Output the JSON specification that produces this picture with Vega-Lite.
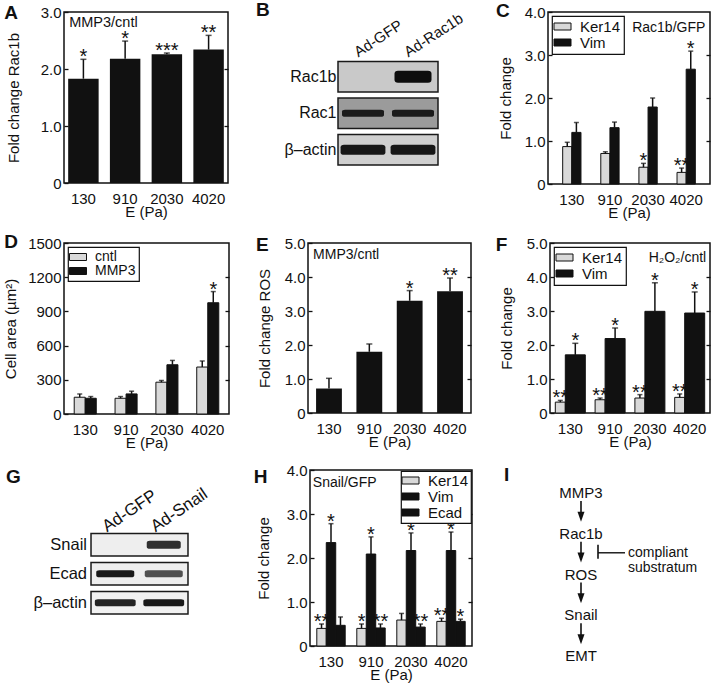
{
 "$schema": "https://vega.github.io/schema/vega-lite/v6.json",
 "background": "white",
 "padding": {"left": 2, "top": 1, "right": 2, "bottom": 2},
 "spacing": 11,
 "resolve": {"scale": {"color": "independent", "xOffset": "independent", "shape": "independent", "fill": "independent", "opacity": "independent"}, "legend": {"color": "independent", "shape": "independent", "fill": "independent", "opacity": "independent"}},
 "vconcat": [
  {"hconcat": [
   {
    "width": 164, "height": 171,
    "data": {"values": [
     {"E": "130", "v": 1.83, "e": 2.17, "sig": "*"},
     {"E": "910", "v": 2.18, "e": 2.49, "sig": "*"},
     {"E": "2030", "v": 2.26, "e": 2.28, "sig": "***"},
     {"E": "4020", "v": 2.34, "e": 2.59, "sig": "**"}
    ]},
    "encoding": {"x": {"field": "E", "type": "nominal", "sort": null, "scale": {"paddingInner": 0.27, "paddingOuter": 0.1}, "axis": {"title": "E (Pa)"}}},
    "layer": [
     {"mark": {"type": "bar", "fill": "#111111"},
      "encoding": {"y": {"field": "v", "type": "quantitative", "scale": {"domain": [0, 3], "nice": false}, "axis": {"title": "Fold change Rac1b", "titlePadding": 19, "values": [0, 1, 2, 3], "labelExpr": "datum.value==0?'0':format(datum.value,'.1f')"}}}},
     {"mark": {"type": "rule", "strokeWidth": 1.5, "color": "#111111"},
      "encoding": {"y": {"field": "v", "type": "quantitative", "axis": {"orient": "right", "labels": false, "title": null, "values": [1, 2]}}, "y2": {"field": "e"}}},
     {"mark": {"type": "tick", "thickness": 1.5, "size": 6, "color": "#111111"},
      "encoding": {"y": {"field": "e", "type": "quantitative", "axis": null}}},
     {"mark": {"type": "text", "fontSize": 20, "baseline": "alphabetic", "dy": 4, "color": "#111111"},
      "encoding": {"y": {"field": "e", "type": "quantitative", "axis": null}, "text": {"field": "sig"}}},
     {"data": {"values": [{"t": "MMP3/cntl"}]},
      "mark": {"type": "text", "fontSize": 14.5, "align": "left", "baseline": "top", "dx": 1, "dy": 4, "color": "#111111"},
      "encoding": {"x": {"datum": "130", "bandPosition": 0}, "y": {"datum": 3, "type": "quantitative", "axis": null}, "text": {"field": "t"}}},
     {"data": {"values": [{}]},
      "mark": {"type": "text", "text": "A", "fontSize": 19, "fontWeight": "bold", "align": "left", "baseline": "alphabetic", "dx": -64, "dy": 7, "color": "#111111"},
      "encoding": {"x": {"datum": "130", "bandPosition": 0}, "y": {"datum": 3, "type": "quantitative", "axis": null}}}
    ],
    "resolve": {"axis": {"y": "independent"}}
   },
   {
    "width": 100, "height": 153, "view": {"stroke": null},
    "encoding": {"y": {"field": "row", "type": "nominal", "scale": {"domain": ["lanes", "Rac1b", "Rac1", "β–actin"], "paddingInner": 0.164, "paddingOuter": 0.178, "align": 1}, "axis": {"title": null, "ticks": false, "labelPadding": 2, "labelFontSize": 16, "labelExpr": "datum.label=='lanes'?'':datum.label"}}},
    "layer": [
     {"data": {"values": [{"row": "Rac1b", "bg": 0.19}, {"row": "Rac1", "bg": 0.36}, {"row": "β–actin", "bg": 0.17}]},
      "mark": {"type": "rect", "stroke": "#1a1a1a", "strokeWidth": 1.5},
      "encoding": {"x": {"datum": -0.5, "type": "quantitative", "scale": {"domain": [-0.5, 1.5], "nice": false, "zero": false}, "axis": null}, "x2": {"datum": 1.5}, "fill": {"field": "bg", "type": "quantitative", "scale": {"domain": [0, 1], "range": ["#ffffff", "#000000"]}, "legend": null}}},
     {"data": {"values": [{"lane": 1, "row": "Rac1b", "i": 1}, {"lane": 0, "row": "Rac1", "i": 0.9}, {"lane": 1, "row": "Rac1", "i": 0.9}, {"lane": 0, "row": "β–actin", "i": 0.95}, {"lane": 1, "row": "β–actin", "i": 0.95}]},
      "mark": {"type": "point", "filled": true, "size": 1600, "color": "#0d0d0d", "strokeWidth": 0},
      "encoding": {"x": {"field": "lane", "type": "quantitative"},
       "shape": {"field": "row", "type": "nominal", "scale": {"domain": ["Rac1b", "Rac1", "β–actin"], "range": [
        "M-0.925,-0.15Q-0.925,-0.3 -0.75,-0.3H0.75Q0.925,-0.3 0.925,-0.15V0.15Q0.925,0.3 0.75,0.3H-0.75Q-0.925,0.3 -0.925,0.15Z",
        "M-1.05,-0.09Q-1.05,-0.18 -0.9,-0.18H0.9Q1.05,-0.18 1.05,-0.09V0.09Q1.05,0.18 0.9,0.18H-0.9Q-1.05,0.18 -1.05,0.09Z",
        "M-1.12,-0.12Q-1.12,-0.25 -0.95,-0.25H0.95Q1.12,-0.25 1.12,-0.12V0.12Q1.12,0.25 0.95,0.25H-0.95Q-1.12,0.25 -1.12,0.12Z"]}, "legend": null},
       "opacity": {"field": "i", "type": "quantitative", "scale": {"domain": [0, 1], "range": [0, 1]}, "legend": null}}},
     {"data": {"values": [{"lane": 0, "name": "Ad-GFP"}, {"lane": 1, "name": "Ad-Rac1b"}]},
      "mark": {"type": "text", "angle": -33, "align": "left", "baseline": "alphabetic", "fontSize": 15, "dx": -5, "dy": -1, "color": "#111111"},
      "encoding": {"x": {"field": "lane", "type": "quantitative"}, "y": {"datum": "lanes", "bandPosition": 1}, "text": {"field": "name"}}},
     {"data": {"values": [{}]},
      "mark": {"type": "text", "text": "B", "fontSize": 19, "fontWeight": "bold", "align": "left", "baseline": "alphabetic", "dx": -82, "dy": -8.8, "color": "#111111"},
      "encoding": {"x": {"datum": -0.5, "type": "quantitative"}, "y": {"datum": "lanes", "bandPosition": 0}}}
    ]
   },
   {
    "width": 162, "height": 172,
    "data": {"values": [
     {"E": "130", "g": "Ker14", "v": 0.87, "e": 0.97, "sig": ""},
     {"E": "130", "g": "Vim", "v": 1.2, "e": 1.43, "sig": ""},
     {"E": "910", "g": "Ker14", "v": 0.71, "e": 0.75, "sig": ""},
     {"E": "910", "g": "Vim", "v": 1.31, "e": 1.44, "sig": ""},
     {"E": "2030", "g": "Ker14", "v": 0.39, "e": 0.48, "sig": "*"},
     {"E": "2030", "g": "Vim", "v": 1.79, "e": 2.0, "sig": ""},
     {"E": "4020", "g": "Ker14", "v": 0.27, "e": 0.37, "sig": "**"},
     {"E": "4020", "g": "Vim", "v": 2.67, "e": 3.09, "sig": "*"}
    ]},
    "encoding": {"x": {"field": "E", "type": "nominal", "sort": null, "scale": {"paddingInner": 0.52, "paddingOuter": 0.385}, "axis": {"title": "E (Pa)"}}},
    "layer": [
     {"mark": {"type": "bar", "stroke": "#111111", "strokeWidth": 1},
      "encoding": {"xOffset": {"field": "g", "type": "nominal", "sort": null},
       "y": {"field": "v", "type": "quantitative", "scale": {"domain": [0, 4], "nice": false}, "axis": {"title": "Fold change", "titlePadding": 11, "values": [0, 1, 2, 3, 4], "labelExpr": "datum.value==0?'0':format(datum.value,'.1f')"}},
       "color": {"field": "g", "type": "nominal", "sort": null, "scale": {"domain": ["Ker14", "Vim"], "range": ["#d9d9d9", "#111111"]}, "legend": {"title": null, "orient": "top-left", "offset": 4, "rowPadding": -3}}}},
     {"mark": {"type": "rule", "strokeWidth": 1.5, "color": "#111111"},
      "encoding": {"xOffset": {"field": "g", "type": "nominal", "sort": null}, "y": {"field": "v", "type": "quantitative", "axis": {"orient": "right", "labels": false, "title": null, "values": [1, 2, 3]}}, "y2": {"field": "e"}}},
     {"mark": {"type": "tick", "thickness": 1.5, "size": 5, "color": "#111111"},
      "encoding": {"xOffset": {"field": "g", "type": "nominal", "sort": null}, "y": {"field": "e", "type": "quantitative", "axis": null}}},
     {"mark": {"type": "text", "fontSize": 20, "baseline": "alphabetic", "dy": 4, "color": "#111111"},
      "encoding": {"xOffset": {"field": "g", "type": "nominal", "sort": null}, "y": {"field": "e", "type": "quantitative", "axis": null}, "text": {"field": "sig"}}},
     {"data": {"values": [{"t": "Rac1b/GFP"}]},
      "mark": {"type": "text", "fontSize": 14, "align": "right", "baseline": "top", "dx": 10, "dy": 9, "color": "#111111"},
      "encoding": {"x": {"datum": "4020", "bandPosition": 1}, "y": {"datum": 4, "type": "quantitative", "axis": null}, "text": {"field": "t"}}},
     {"data": {"values": [{}]},
      "mark": {"type": "text", "text": "C", "fontSize": 19, "fontWeight": "bold", "align": "left", "baseline": "alphabetic", "dx": -66.6, "dy": 5.3, "color": "#111111"},
      "encoding": {"x": {"datum": "130", "bandPosition": 0}, "y": {"datum": 4, "type": "quantitative", "axis": null}}}
    ],
    "resolve": {"axis": {"y": "independent"}}
   }
  ], "spacing": 110, "bounds": "flush",
  "resolve": {"scale": {"color": "independent", "xOffset": "independent", "shape": "independent", "fill": "independent", "opacity": "independent"}, "legend": {"color": "independent", "shape": "independent", "fill": "independent", "opacity": "independent"}}},
  {"hconcat": [
   {
    "width": 165, "height": 171,
    "data": {"values": [
     {"E": "130", "g": "cntl", "v": 147, "e": 176, "sig": ""},
     {"E": "130", "g": "MMP3", "v": 138, "e": 153, "sig": ""},
     {"E": "910", "g": "cntl", "v": 138, "e": 153, "sig": ""},
     {"E": "910", "g": "MMP3", "v": 176, "e": 200, "sig": ""},
     {"E": "2030", "g": "cntl", "v": 279, "e": 294, "sig": ""},
     {"E": "2030", "g": "MMP3", "v": 432, "e": 470, "sig": ""},
     {"E": "4020", "g": "cntl", "v": 412, "e": 465, "sig": ""},
     {"E": "4020", "g": "MMP3", "v": 976, "e": 1074, "sig": "*"}
    ]},
    "encoding": {"x": {"field": "E", "type": "nominal", "sort": null, "scale": {"paddingInner": 0.46, "paddingOuter": 0.25}, "axis": {"title": "E (Pa)"}}},
    "layer": [
     {"mark": {"type": "bar", "stroke": "#111111", "strokeWidth": 1},
      "encoding": {"xOffset": {"field": "g", "type": "nominal", "sort": null},
       "y": {"field": "v", "type": "quantitative", "scale": {"domain": [0, 1500], "nice": false}, "axis": {"title": "Cell area (µm²)", "titlePadding": 9, "values": [0, 300, 600, 900, 1200, 1500], "format": "d"}},
       "color": {"field": "g", "type": "nominal", "sort": null, "scale": {"domain": ["cntl", "MMP3"], "range": ["#d9d9d9", "#111111"]}, "legend": {"title": null, "orient": "top-left", "offset": 4, "rowPadding": -5, "labelFontSize": 14}}}},
     {"mark": {"type": "rule", "strokeWidth": 1.5, "color": "#111111"},
      "encoding": {"xOffset": {"field": "g", "type": "nominal", "sort": null}, "y": {"field": "v", "type": "quantitative", "axis": {"orient": "right", "labels": false, "title": null, "values": [300, 600, 900, 1200]}}, "y2": {"field": "e"}}},
     {"mark": {"type": "tick", "thickness": 1.5, "size": 5, "color": "#111111"},
      "encoding": {"xOffset": {"field": "g", "type": "nominal", "sort": null}, "y": {"field": "e", "type": "quantitative", "axis": null}}},
     {"mark": {"type": "text", "fontSize": 20, "baseline": "alphabetic", "dy": 4, "color": "#111111"},
      "encoding": {"xOffset": {"field": "g", "type": "nominal", "sort": null}, "y": {"field": "e", "type": "quantitative", "axis": null}, "text": {"field": "sig"}}},
     {"data": {"values": [{}]},
      "mark": {"type": "text", "text": "D", "fontSize": 19, "fontWeight": "bold", "align": "left", "baseline": "alphabetic", "dx": -70, "dy": 5, "color": "#111111"},
      "encoding": {"x": {"datum": "130", "bandPosition": 0}, "y": {"datum": 1500, "type": "quantitative", "axis": null}}}
    ],
    "resolve": {"axis": {"y": "independent"}}
   },
   {
    "width": 163, "height": 170,
    "data": {"values": [
     {"E": "130", "v": 0.72, "e": 1.02, "sig": ""},
     {"E": "910", "v": 1.8, "e": 2.03, "sig": ""},
     {"E": "2030", "v": 3.3, "e": 3.6, "sig": "*"},
     {"E": "4020", "v": 3.58, "e": 3.97, "sig": "**"}
    ]},
    "encoding": {"x": {"field": "E", "type": "nominal", "sort": null, "scale": {"paddingInner": 0.36, "paddingOuter": 0.2}, "axis": {"title": "E (Pa)"}}},
    "layer": [
     {"mark": {"type": "bar", "fill": "#111111"},
      "encoding": {"y": {"field": "v", "type": "quantitative", "scale": {"domain": [0, 5], "nice": false}, "axis": {"title": "Fold change ROS", "titlePadding": 12, "values": [0, 1, 2, 3, 4, 5], "labelExpr": "datum.value==0?'0':format(datum.value,'.1f')"}}}},
     {"mark": {"type": "rule", "strokeWidth": 1.5, "color": "#111111"},
      "encoding": {"y": {"field": "v", "type": "quantitative", "axis": {"orient": "right", "labels": false, "title": null, "values": [1, 2, 3, 4]}}, "y2": {"field": "e"}}},
     {"mark": {"type": "tick", "thickness": 1.5, "size": 6, "color": "#111111"},
      "encoding": {"y": {"field": "e", "type": "quantitative", "axis": null}}},
     {"mark": {"type": "text", "fontSize": 20, "baseline": "alphabetic", "dy": 4, "color": "#111111"},
      "encoding": {"y": {"field": "e", "type": "quantitative", "axis": null}, "text": {"field": "sig"}}},
     {"data": {"values": [{"t": "MMP3/cntl"}]},
      "mark": {"type": "text", "fontSize": 14, "align": "left", "baseline": "top", "dx": -3, "dy": 5, "color": "#111111"},
      "encoding": {"x": {"datum": "130", "bandPosition": 0}, "y": {"datum": 5, "type": "quantitative", "axis": null}, "text": {"field": "t"}}},
     {"data": {"values": [{}]},
      "mark": {"type": "text", "text": "E", "fontSize": 19, "fontWeight": "bold", "align": "left", "baseline": "alphabetic", "dx": -60, "dy": 7.7, "color": "#111111"},
      "encoding": {"x": {"datum": "130", "bandPosition": 0}, "y": {"datum": 5, "type": "quantitative", "axis": null}}}
    ],
    "resolve": {"axis": {"y": "independent"}}
   },
   {
    "width": 160, "height": 170,
    "data": {"values": [
     {"E": "130", "g": "Ker14", "v": 0.32, "e": 0.37, "sig": "**"},
     {"E": "130", "g": "Vim", "v": 1.71, "e": 2.05, "sig": "*"},
     {"E": "910", "g": "Ker14", "v": 0.39, "e": 0.44, "sig": "**"},
     {"E": "910", "g": "Vim", "v": 2.19, "e": 2.5, "sig": "*"},
     {"E": "2030", "g": "Ker14", "v": 0.44, "e": 0.54, "sig": "**"},
     {"E": "2030", "g": "Vim", "v": 2.99, "e": 3.83, "sig": "*"},
     {"E": "4020", "g": "Ker14", "v": 0.46, "e": 0.56, "sig": "**"},
     {"E": "4020", "g": "Vim", "v": 2.94, "e": 3.56, "sig": "*"}
    ]},
    "encoding": {"x": {"field": "E", "type": "nominal", "sort": null, "scale": {"paddingInner": 0.22, "paddingOuter": 0.12}, "axis": {"title": "E (Pa)"}}},
    "layer": [
     {"transform": [{"filter": "datum.g=='Ker14'"}],
      "mark": {"type": "bar", "width": 10, "xOffset": -10, "stroke": "#111111", "strokeWidth": 1},
      "encoding": {"y": {"field": "v", "type": "quantitative", "scale": {"domain": [0, 5], "nice": false}, "axis": {"title": "Fold change", "titlePadding": 12, "values": [0, 1, 2, 3, 4, 5], "labelExpr": "datum.value==0?'0':format(datum.value,'.1f')"}},
       "color": {"field": "g", "type": "nominal", "sort": null, "scale": {"domain": ["Ker14", "Vim"], "range": ["#d9d9d9", "#111111"]}, "legend": {"title": null, "orient": "top-left", "offset": 4, "rowPadding": -3}}}},
     {"transform": [{"filter": "datum.g=='Vim'"}],
      "mark": {"type": "bar", "width": 20, "xOffset": 5, "stroke": "#111111", "strokeWidth": 1},
      "encoding": {"y": {"field": "v", "type": "quantitative", "axis": null}, "color": {"field": "g", "type": "nominal", "sort": null}}},
     {"transform": [{"filter": "datum.g=='Ker14'"}],
      "mark": {"type": "rule", "strokeWidth": 1.5, "color": "#111111", "xOffset": -10},
      "encoding": {"y": {"field": "v", "type": "quantitative", "axis": {"orient": "right", "labels": false, "title": null, "values": [1, 2, 3, 4]}}, "y2": {"field": "e"}}},
     {"transform": [{"filter": "datum.g=='Vim'"}],
      "mark": {"type": "rule", "strokeWidth": 1.5, "color": "#111111", "xOffset": 5},
      "encoding": {"y": {"field": "v", "type": "quantitative", "axis": null}, "y2": {"field": "e"}}},
     {"transform": [{"filter": "datum.g=='Ker14'"}],
      "mark": {"type": "tick", "thickness": 1.5, "size": 5, "color": "#111111", "xOffset": -10},
      "encoding": {"y": {"field": "e", "type": "quantitative", "axis": null}}},
     {"transform": [{"filter": "datum.g=='Vim'"}],
      "mark": {"type": "tick", "thickness": 1.5, "size": 6, "color": "#111111", "xOffset": 5},
      "encoding": {"y": {"field": "e", "type": "quantitative", "axis": null}}},
     {"transform": [{"filter": "datum.g=='Ker14'"}],
      "mark": {"type": "text", "fontSize": 20, "baseline": "alphabetic", "dy": 4, "color": "#111111", "xOffset": -10},
      "encoding": {"y": {"field": "e", "type": "quantitative", "axis": null}, "text": {"field": "sig"}}},
     {"transform": [{"filter": "datum.g=='Vim'"}],
      "mark": {"type": "text", "fontSize": 20, "baseline": "alphabetic", "dy": 4, "color": "#111111", "xOffset": 5},
      "encoding": {"y": {"field": "e", "type": "quantitative", "axis": null}, "text": {"field": "sig"}}},
     {"data": {"values": [{"t": "H₂O₂/cntl"}]},
      "mark": {"type": "text", "fontSize": 14, "align": "right", "baseline": "top", "dx": 1, "dy": 8, "color": "#111111"},
      "encoding": {"x": {"datum": "4020", "bandPosition": 1}, "y": {"datum": 5, "type": "quantitative", "axis": null}, "text": {"field": "t"}}},
     {"data": {"values": [{}]},
      "mark": {"type": "text", "text": "F", "fontSize": 19, "fontWeight": "bold", "align": "left", "baseline": "alphabetic", "dx": -59, "dy": 7.7, "color": "#111111"},
      "encoding": {"x": {"datum": "130", "bandPosition": 0}, "y": {"datum": 5, "type": "quantitative", "axis": null}}}
    ],
    "resolve": {"axis": {"y": "independent"}}
   }
  ], "spacing": 79, "bounds": "flush",
  "resolve": {"scale": {"color": "independent", "xOffset": "independent", "shape": "independent", "fill": "independent", "opacity": "independent"}, "legend": {"color": "independent", "shape": "independent", "fill": "independent", "opacity": "independent"}}},
  {"hconcat": [
   {
    "width": 214, "height": 144, "view": {"stroke": null},
    "encoding": {"y": {"field": "row", "type": "nominal", "scale": {"domain": ["lanes", "Snail", "Ecad", "β–actin"], "paddingInner": 0.224, "paddingOuter": 0.595, "align": 1}, "axis": null}},
    "layer": [
     {"data": {"values": [{"row": "Snail", "bg": 0.06}, {"row": "Ecad", "bg": 0.06}, {"row": "β–actin", "bg": 0.05}]},
      "mark": {"type": "rect", "stroke": "#1a1a1a", "strokeWidth": 1.5},
      "encoding": {"x": {"datum": -0.5, "type": "quantitative", "scale": {"domain": [-1.057, 3.356], "nice": false, "zero": false}, "axis": null}, "x2": {"datum": 1.5}, "fill": {"field": "bg", "type": "quantitative", "scale": {"domain": [0, 1], "range": ["#ffffff", "#000000"]}, "legend": null}}},
     {"data": {"values": [{"row": "Snail"}, {"row": "Ecad"}, {"row": "β–actin"}]},
      "mark": {"type": "text", "align": "right", "baseline": "middle", "fontSize": 16.5, "dx": -4, "color": "#111111"},
      "encoding": {"x": {"datum": -0.5, "type": "quantitative"}, "text": {"field": "row"}}},
     {"data": {"values": [{"lane": 1, "row": "Snail", "i": 0.85}, {"lane": 0, "row": "Ecad", "i": 0.95}, {"lane": 1, "row": "Ecad", "i": 0.7}, {"lane": 0, "row": "β–actin", "i": 0.9}, {"lane": 1, "row": "β–actin", "i": 0.95}]},
      "mark": {"type": "point", "filled": true, "size": 1600, "color": "#0d0d0d", "strokeWidth": 0},
      "encoding": {"x": {"field": "lane", "type": "quantitative"},
       "shape": {"field": "row", "type": "nominal", "scale": {"domain": ["Snail", "Ecad", "β–actin"], "range": [
        "M-0.85,-0.1Q-0.85,-0.2 -0.7,-0.2H0.7Q0.85,-0.2 0.85,-0.1V0.1Q0.85,0.2 0.7,0.2H-0.7Q-0.85,0.2 -0.85,0.1Z",
        "M-0.95,-0.09Q-0.95,-0.18 -0.8,-0.18H0.8Q0.95,-0.18 0.95,-0.09V0.09Q0.95,0.18 0.8,0.18H-0.8Q-0.95,0.18 -0.95,0.09Z",
        "M-1.02,-0.09Q-1.02,-0.18 -0.87,-0.18H0.87Q1.02,-0.18 1.02,-0.09V0.09Q1.02,0.18 0.87,0.18H-0.87Q-1.02,0.18 -1.02,0.09Z"]}, "legend": null},
       "opacity": {"field": "i", "type": "quantitative", "scale": {"domain": [0, 1], "range": [0, 1]}, "legend": null}}},
     {"data": {"values": [{"lane": 0, "name": "Ad-GFP"}, {"lane": 1, "name": "Ad-Snail"}]},
      "mark": {"type": "text", "angle": -34, "align": "left", "baseline": "alphabetic", "fontSize": 17, "dx": -10, "dy": 0, "color": "#111111"},
      "encoding": {"x": {"field": "lane", "type": "quantitative"}, "y": {"datum": "lanes", "bandPosition": 1}, "text": {"field": "name"}}},
     {"data": {"values": [{}]},
      "mark": {"type": "text", "text": "G", "fontSize": 19, "fontWeight": "bold", "align": "left", "baseline": "alphabetic", "dx": -58, "dy": -21.8, "color": "#111111"},
      "encoding": {"x": {"datum": -1.057, "type": "quantitative"}, "y": {"datum": "lanes", "bandPosition": 0}}}
    ]
   },
   {
    "width": 162, "height": 176,
    "data": {"values": [
     {"E": "130", "g": "Ker14", "v": 0.40, "e": 0.50, "sig": "**"},
     {"E": "130", "g": "Vim", "v": 2.35, "e": 2.78, "sig": "*"},
     {"E": "130", "g": "Ecad", "v": 0.47, "e": 0.66, "sig": ""},
     {"E": "910", "g": "Ker14", "v": 0.40, "e": 0.50, "sig": "*"},
     {"E": "910", "g": "Vim", "v": 2.09, "e": 2.48, "sig": "*"},
     {"E": "910", "g": "Ecad", "v": 0.41, "e": 0.50, "sig": "**"},
     {"E": "2030", "g": "Ker14", "v": 0.59, "e": 0.74, "sig": ""},
     {"E": "2030", "g": "Vim", "v": 2.17, "e": 2.57, "sig": "*"},
     {"E": "2030", "g": "Ecad", "v": 0.43, "e": 0.50, "sig": "**"},
     {"E": "4020", "g": "Ker14", "v": 0.56, "e": 0.63, "sig": "**"},
     {"E": "4020", "g": "Vim", "v": 2.17, "e": 2.59, "sig": "*"},
     {"E": "4020", "g": "Ecad", "v": 0.56, "e": 0.61, "sig": "*"}
    ]},
    "encoding": {"x": {"field": "E", "type": "nominal", "sort": null, "scale": {"paddingInner": 0.29, "paddingOuter": 0.17}, "axis": {"title": "E (Pa)"}}},
    "layer": [
     {"mark": {"type": "bar", "stroke": "#111111", "strokeWidth": 1},
      "encoding": {"xOffset": {"field": "g", "type": "nominal", "sort": null},
       "y": {"field": "v", "type": "quantitative", "scale": {"domain": [0, 4], "nice": false}, "axis": {"title": "Fold change", "titlePadding": 15, "values": [0, 1, 2, 3, 4], "labelExpr": "datum.value==0?'0':format(datum.value,'.1f')"}},
       "color": {"field": "g", "type": "nominal", "sort": null, "scale": {"domain": ["Ker14", "Vim", "Ecad"], "range": ["#d9d9d9", "#111111", "#111111"]}, "legend": {"title": null, "orient": "top-right", "offset": 1, "padding": 2, "rowPadding": -3}}}},
     {"mark": {"type": "rule", "strokeWidth": 1.5, "color": "#111111"},
      "encoding": {"xOffset": {"field": "g", "type": "nominal", "sort": null}, "y": {"field": "v", "type": "quantitative", "axis": {"orient": "right", "labels": false, "title": null, "values": [1, 2, 3]}}, "y2": {"field": "e"}}},
     {"mark": {"type": "tick", "thickness": 1.5, "size": 5, "color": "#111111"},
      "encoding": {"xOffset": {"field": "g", "type": "nominal", "sort": null}, "y": {"field": "e", "type": "quantitative", "axis": null}}},
     {"mark": {"type": "text", "fontSize": 20, "baseline": "alphabetic", "dy": 4, "color": "#111111"},
      "encoding": {"xOffset": {"field": "g", "type": "nominal", "sort": null}, "y": {"field": "e", "type": "quantitative", "axis": null}, "text": {"field": "sig"}}},
     {"data": {"values": [{"t": "Snail/GFP"}]},
      "mark": {"type": "text", "fontSize": 14, "align": "left", "baseline": "top", "dx": -4, "dy": 5.5, "color": "#111111"},
      "encoding": {"x": {"datum": "130", "bandPosition": 0}, "y": {"datum": 4, "type": "quantitative", "axis": null}, "text": {"field": "t"}}},
     {"data": {"values": [{}]},
      "mark": {"type": "text", "text": "H", "fontSize": 19, "fontWeight": "bold", "align": "left", "baseline": "alphabetic", "dx": -63, "dy": 12.7, "color": "#111111"},
      "encoding": {"x": {"datum": "130", "bandPosition": 0}, "y": {"datum": 4, "type": "quantitative", "axis": null}}}
    ],
    "resolve": {"axis": {"y": "independent"}}
   },
   {
    "width": 206, "height": 200, "view": {"stroke": null},
    "layer": [
     {"data": {"values": [{"n": "MMP3", "s": 0}, {"n": "Rac1b", "s": 1}, {"n": "ROS", "s": 2}, {"n": "Snail", "s": 3}, {"n": "EMT", "s": 4}]},
      "mark": {"type": "text", "fontSize": 15, "baseline": "middle", "color": "#111111"},
      "encoding": {"x": {"datum": 0, "type": "quantitative", "scale": {"domain": [-1.925, 3.225], "nice": false, "zero": false}, "axis": null},
       "y": {"field": "s", "type": "quantitative", "scale": {"domain": [-0.564, 4.34], "reverse": true, "nice": false, "zero": false}, "axis": null},
       "text": {"field": "n"}}},
     {"data": {"values": [{"s": 0, "t": 1}, {"s": 1, "t": 2}, {"s": 2, "t": 3}, {"s": 3, "t": 4}]},
      "mark": {"type": "rule", "strokeWidth": 1.6, "color": "#111111", "yOffset": 8, "y2Offset": -19},
      "encoding": {"x": {"datum": 0, "type": "quantitative"}, "y": {"field": "s", "type": "quantitative"}, "y2": {"field": "t"}}},
     {"data": {"values": [{"s": 0, "t": 1}, {"s": 1, "t": 2}, {"s": 2, "t": 3}, {"s": 3, "t": 4}]},
      "mark": {"type": "point", "shape": "M-0.7,-1L0.7,-1L0,1Z", "size": 100, "filled": true, "color": "#111111", "strokeWidth": 0, "opacity": 1, "yOffset": -17},
      "encoding": {"x": {"datum": 0, "type": "quantitative"}, "y": {"field": "t", "type": "quantitative"}}},
     {"data": {"values": [{}]},
      "mark": {"type": "rule", "strokeWidth": 1.6, "color": "#111111"},
      "encoding": {"x": {"datum": 0.425, "type": "quantitative"}, "y": {"datum": 1.27, "type": "quantitative"}, "y2": {"datum": 1.61}}},
     {"data": {"values": [{}]},
      "mark": {"type": "rule", "strokeWidth": 1.4, "color": "#111111"},
      "encoding": {"x": {"datum": 0.425, "type": "quantitative"}, "x2": {"datum": 1.1}, "y": {"datum": 1.466, "type": "quantitative"}}},
     {"data": {"values": [{}]},
      "mark": {"type": "text", "align": "left", "baseline": "middle", "fontSize": 14, "lineHeight": 15, "color": "#111111"},
      "encoding": {"x": {"datum": 1.175, "type": "quantitative"}, "y": {"datum": 1.475, "type": "quantitative"}, "text": {"value": ["compliant", "substratum"]}}},
     {"data": {"values": [{}]},
      "mark": {"type": "text", "text": "I", "fontSize": 19, "fontWeight": "bold", "align": "left", "baseline": "alphabetic", "dx": 0, "dy": 11, "color": "#111111"},
      "encoding": {"x": {"datum": -1.925, "type": "quantitative"}, "y": {"datum": -0.564, "type": "quantitative"}}}
    ]
   }
  ], "spacing": 32, "bounds": "flush",
  "resolve": {"scale": {"color": "independent", "xOffset": "independent", "shape": "independent", "fill": "independent", "opacity": "independent"}, "legend": {"color": "independent", "shape": "independent", "fill": "independent", "opacity": "independent"}}}
 ],
 "config": {
  "font": "Liberation Sans",
  "view": {"stroke": "#111111", "strokeWidth": 1.5},
  "axis": {"grid": false, "domain": false, "labelFontSize": 15, "titleFontSize": 15, "titleFontWeight": "normal", "labelColor": "#111111", "titleColor": "#111111", "tickColor": "#111111", "tickWidth": 1.3},
  "axisX": {"ticks": false, "labelAngle": 0, "labelPadding": 8, "titlePadding": -2},
  "axisY": {"tickSize": -4, "labelPadding": 7},
  "legend": {"strokeColor": "#111111", "strokeWidth": 1.2, "fillColor": "white", "padding": 3, "labelFontSize": 15, "labelColor": "#111111", "symbolType": "M-1.7,-0.7H1.7V0.7H-1.7Z", "symbolSize": 100, "symbolStrokeColor": "#111111", "symbolStrokeWidth": 1, "symbolOpacity": 1, "labelOffset": 10, "rowPadding": -2}
 }
}
